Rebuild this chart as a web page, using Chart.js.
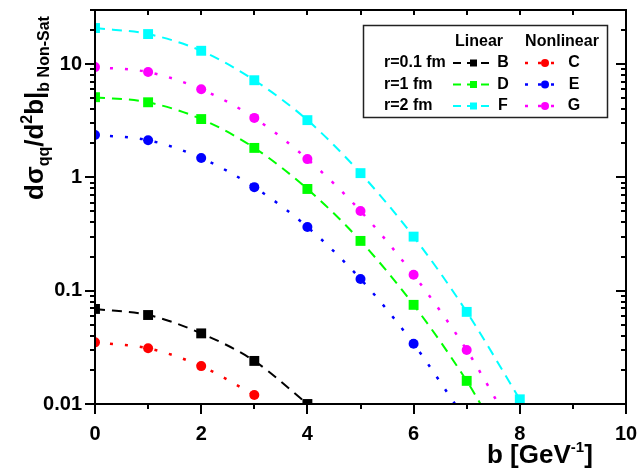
<!DOCTYPE html>
<html>
<head>
<meta charset="utf-8">
<script src="https://cdn.jsdelivr.net/npm/chart.js@4"></script>
<style>
  html, body { margin: 0; padding: 0; background: #fff; }
</style>
</head>
<body>
<canvas id="chart" width="637" height="469"></canvas>
<script>
// impact parameter b [GeV^-1]
const bValues = [0, 1, 2, 3, 4, 5, 6, 7, 8];

// linear (dashed, squares)
const seriesB = [0.069, 0.061, 0.042, 0.024, 0.0100];
const seriesD = [5.1, 4.6, 3.27, 1.82, 0.79, 0.275, 0.075, 0.016];
const seriesF = [20.8, 18.4, 13.1, 7.2, 3.2, 1.09, 0.30, 0.065, 0.011];
// nonlinear (dotted, circles)
const seriesC = [0.035, 0.031, 0.0216, 0.012];
const seriesE = [2.37, 2.13, 1.48, 0.82, 0.365, 0.127, 0.034];
const seriesG = [9.4, 8.5, 6.0, 3.35, 1.45, 0.505, 0.138, 0.030];

// where the fitted curves run out through the bottom axis
const tailD = [7.26, 0.01];
const tailE = [6.78, 0.01];
const tailG = [7.6, 0.01];

const yTickValues = [0.01, 0.1, 1, 10];
const yTickLabels = ["0.01", "0.1", "1", "10"];

const FONT = '"Liberation Sans", Arial, sans-serif';

function pts(ys, tail) {
  const out = ys.map((v, i) => ({ x: bValues[i], y: v }));
  if (tail) out.push({ x: tail[0], y: tail[1] });
  return out;
}

const dashed = [10, 7];
const dotted = [3, 12];

function curve(ys, tail, color, dash) {
  return {
    type: "line",
    data: pts(ys, tail),
    borderColor: color,
    borderWidth: dash === dotted ? 2.5 : 2,
    borderDash: dash,
    pointRadius: 0,
    cubicInterpolationMode: "monotone",
    fill: false,
    order: 2,
  };
}

function marks(ys, color, style) {
  return {
    type: "scatter",
    data: pts(ys),
    backgroundColor: color,
    borderColor: color,
    borderWidth: 0,
    pointStyle: style,
    pointRadius: style === "rect" ? 7 : 5,
    showLine: false,
    order: 1,
  };
}

function drawRich(ctx, parts, x, y, angle) {
  ctx.save();
  ctx.translate(x, y);
  ctx.rotate(angle);
  ctx.fillStyle = "#000";
  ctx.textBaseline = "alphabetic";
  let cx = 0;
  for (const p of parts) {
    ctx.font = "bold " + p.size + "px " + FONT;
    ctx.fillText(p.text, cx, p.shift || 0);
    cx += ctx.measureText(p.text).width;
  }
  ctx.restore();
}

const decor = {
  id: "decor",
  afterDatasetsDraw(chart) {
    const { ctx, chartArea: a, scales } = chart;
    const xs = scales.x, ys = scales.y;
    ctx.save();
    ctx.strokeStyle = "#000";
    ctx.lineWidth = 2;
    ctx.strokeRect(a.left, a.top, a.right - a.left, a.bottom - a.top);

    ctx.beginPath();
    // x ticks: bottom outward, top inward
    for (let v = xs.min; v <= xs.max; v++) {
      const px = Math.round(xs.getPixelForValue(v));
      const len = v % 2 === 0 ? 10 : 5;
      ctx.moveTo(px, a.bottom);
      ctx.lineTo(px, a.bottom + len);
      ctx.moveTo(px, a.top);
      ctx.lineTo(px, a.top + 5);
    }
    // y ticks: left outward, right inward
    for (const d of yTickValues) {
      for (let k = 1; k <= 9; k++) {
        const v = d * k;
        if (v > ys.max) break;
        const py = Math.round(ys.getPixelForValue(v));
        const len = k === 1 ? 10 : 5;
        ctx.moveTo(a.left, py);
        ctx.lineTo(a.left - len, py);
        ctx.moveTo(a.right, py);
        ctx.lineTo(a.right - len, py);
      }
    }
    ctx.stroke();
    ctx.restore();
  },
  afterDraw(chart) {
    const ctx = chart.ctx;

    // axis titles
    drawRich(ctx, [
      { text: "b [GeV", size: 26 },
      { text: "-1", size: 15, shift: -11 },
      { text: "]", size: 26 },
    ], 487, 463, 0);
    drawRich(ctx, [
      { text: "d\u03c3", size: 26 },
      { text: "qq", size: 16, shift: 6 },
      { text: "/d", size: 26 },
      { text: "2", size: 16, shift: -11 },
      { text: "b|", size: 26 },
      { text: "b Non-Sat", size: 16, shift: 6 },
    ], 43, 200, -Math.PI / 2);

    // legend box
    ctx.save();
    ctx.strokeStyle = "#222";
    ctx.lineWidth = 1.5;
    ctx.strokeRect(363.5, 25.5, 244, 92);
    ctx.fillStyle = "#000";
    ctx.font = "bold 16px " + FONT;
    ctx.textBaseline = "middle";
    ctx.textAlign = "center";
    ctx.fillText("Linear", 479, 42);
    ctx.fillText("Nonlinear", 562, 42);

    const rows = [
      ["r=0.1 fm", "B", "#000000", "C", "#ff0000"],
      ["r=1 fm", "D", "#00ff00", "E", "#0000ff"],
      ["r=2 fm", "F", "#00ffff", "G", "#ff00ff"],
    ];
    rows.forEach((r, i) => {
      const y = 63 + i * 21.5;
      ctx.fillStyle = "#000";
      ctx.textAlign = "left";
      ctx.fillText(r[0], 384, y);
      ctx.textAlign = "center";
      ctx.fillText(r[1], 503, y);
      ctx.fillText(r[3], 574, y);

      // linear sample
      ctx.strokeStyle = r[2];
      ctx.lineWidth = 2;
      ctx.setLineDash([8, 6]);
      ctx.beginPath();
      ctx.moveTo(453, y);
      ctx.lineTo(489, y);
      ctx.stroke();
      ctx.fillStyle = r[2];
      ctx.fillRect(470, y - 3.5, 7, 7);

      // nonlinear sample
      ctx.strokeStyle = r[4];
      ctx.lineWidth = 2.5;
      ctx.setLineDash([3, 10]);
      ctx.beginPath();
      ctx.moveTo(525, y);
      ctx.lineTo(556, y);
      ctx.stroke();
      ctx.setLineDash([]);
      ctx.fillStyle = r[4];
      ctx.beginPath();
      ctx.arc(545, y, 4, 0, Math.PI * 2);
      ctx.fill();
    });
    ctx.restore();
  },
};

new Chart(document.getElementById("chart"), {
  data: {
    datasets: [
      marks(seriesB, "#000000", "rect"),
      marks(seriesD, "#00ff00", "rect"),
      marks(seriesF, "#00ffff", "rect"),
      marks(seriesC, "#ff0000", "circle"),
      marks(seriesE, "#0000ff", "circle"),
      marks(seriesG, "#ff00ff", "circle"),
      curve(seriesB, null, "#000000", dashed),
      curve(seriesD, tailD, "#00ff00", dashed),
      curve(seriesF, null, "#00ffff", dashed),
      curve(seriesC, null, "#ff0000", dotted),
      curve(seriesE, tailE, "#0000ff", dotted),
      curve(seriesG, tailG, "#ff00ff", dotted),
    ],
  },
  options: {
    responsive: false,
    animation: false,
    devicePixelRatio: 1,
    layout: { padding: 0 },
    plugins: { legend: { display: false }, tooltip: { enabled: false } },
    scales: {
      x: {
        type: "linear",
        min: 0,
        max: 10,
        grid: { display: false, drawTicks: false },
        border: { display: false },
        ticks: {
          stepSize: 2,
          color: "#000",
          padding: 18,
          font: { family: FONT, size: 20, weight: "bold" },
        },
        afterFit: (s) => { s.height = 65; s.paddingRight = 11; },
      },
      y: {
        type: "logarithmic",
        min: 0.01,
        max: 30,
        grid: { display: false, drawTicks: false },
        border: { display: false },
        afterBuildTicks: (s) => { s.ticks = yTickValues.map((v) => ({ value: v })); },
        ticks: {
          color: "#000",
          padding: 13,
          font: { family: FONT, size: 20, weight: "bold" },
          callback: (v, i) => yTickLabels[i],
        },
        afterFit: (s) => { s.width = 95; s.paddingTop = 10; },
      },
    },
  },
  plugins: [decor],
});
</script>
</body>
</html>
